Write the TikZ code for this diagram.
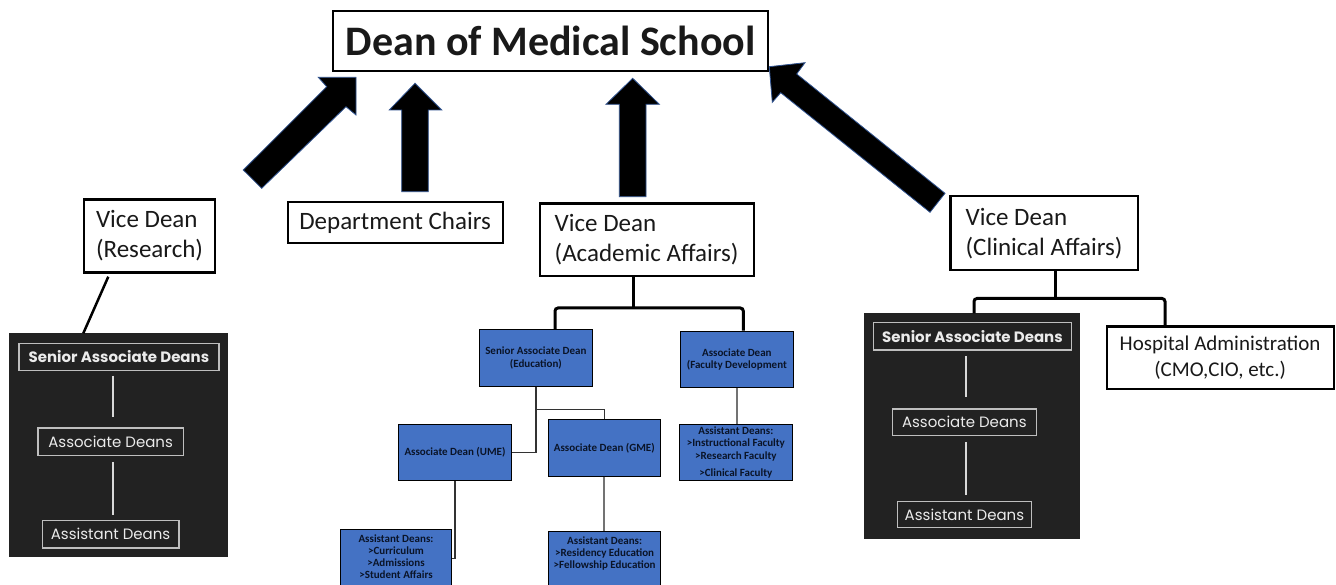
\documentclass[tikz,border=0pt]{standalone}
\usepackage{fontspec}
\setmainfont{Carlito}
\newfontfamily\gothic{Poppins}
\usetikzlibrary{calc}
\definecolor{bluefill}{HTML}{4472C4}
\definecolor{darkbg}{HTML}{222222}
\definecolor{innerline}{HTML}{BFBFBF}
\definecolor{arrowedge}{HTML}{2F528F}
\definecolor{bluetext}{HTML}{0A1428}
\begin{document}
\begin{tikzpicture}[x=1pt,y=-1pt,
  whitebox/.style={draw=black, line width=2.2pt, fill=white, inner sep=0pt, anchor=north west, align=center, text=black!90},
  vdbox/.style={whitebox, align=left, font=\fontsize{25}{30}\selectfont},
  bluebox/.style={draw=black, line width=1pt, fill=bluefill, inner sep=0pt, anchor=north west, align=center, text=bluetext, font=\bfseries\fontsize{11}{12.3}\selectfont},
  darkpanel/.style={fill=darkbg, draw=none, inner sep=0pt, anchor=north west},
  innerbox/.style={draw=innerline, line width=1.2pt, inner sep=0pt, text=white!92!black, font=\gothic\fontsize{15}{18}\selectfont, anchor=north west},
  darkline/.style={draw=white!85!black, line width=2pt},
  thickconn/.style={draw=black, line width=3pt, rounded corners=3pt},
  thinconn/.style={draw=black!80, line width=1.4pt},
  grayconn/.style={draw=black!55, line width=1.8pt},
  blockarrow/.style={fill=black, draw=arrowedge, line width=0.8pt, line join=miter},
]
\useasboundingbox (0,0) rectangle (1336,585);
\fill[white] (0,0) rectangle (1336,585);

% top
\node[whitebox, minimum width=435, minimum height=60, font=\bfseries\fontsize{42}{42}\selectfont] (dean) at (332,10) {Dean of Medical School};

% second row
\node[vdbox, minimum width=131.5, minimum height=73] (vdr) at (82.7,198.5) {Vice Dean\\(Research)};
\node[whitebox, minimum width=215, minimum height=41, font=\fontsize{25}{30}\selectfont] (chairs) at (286.5,201) {Department Chairs};
\node[vdbox, minimum width=214, minimum height=72.5] (vda) at (538.5,202.5) {Vice Dean\\(Academic Affairs)};
\node[vdbox, minimum width=187.4, minimum height=74.3] (vdc) at (949.3,195) {Vice Dean\\(Clinical Affairs)};

% block arrows
\filldraw[blockarrow] (243.3,170) -- (326.7,86.7) -- (318.3,77.3) -- (356,77.3) -- (356,115) -- (346,106.7) -- (261.7,188.3) -- cycle;
\filldraw[blockarrow] (401.7,191.7) -- (401.7,110) -- (389.3,110) -- (415,83.3) -- (441.7,110) -- (428.3,110) -- (428.3,191.7) -- cycle;
\filldraw[blockarrow] (619.3,196.7) -- (619.3,104.3) -- (606,104.3) -- (632.7,78.3) -- (659.3,104.3) -- (646,104.3) -- (646,196.7) -- cycle;
\filldraw[blockarrow] (769.3,66.7) -- (805,62.7) -- (796.7,74) -- (945,193.3) -- (930,212.3) -- (780.7,92.7) -- (772.3,102.3) -- cycle;

% left dark panel
\node[darkpanel, minimum width=219, minimum height=223.4] (lpanel) at (9,333.3) {};
\node[innerbox, minimum width=200, minimum height=27.3, font=\gothic\bfseries\fontsize{15}{18}\selectfont] (lsad) at (18.3,342.7) {Senior Associate Deans};
\node[innerbox, minimum width=145.4, minimum height=27.7] (lad) at (37.3,427.3) {Associate Deans};
\node[innerbox, minimum width=136.6, minimum height=27.3] (lasd) at (41.7,520) {Assistant Deans};
\coordinate (lx) at (113.3,0);
\draw[darkline] ($(lsad.south -| lx)+(0,4.3)$) -- ($(lad.north -| lx)+(0,-10.6)$);
\draw[darkline] ($(lad.south -| lx)+(0,5.7)$) -- ($(lasd.north -| lx)+(0,-5)$);
\draw[draw=black, line width=2.5pt] ($(vdr.south west)+(25.6,3)$) -- ($(lpanel.north west)+(74.3,0)$);

% right dark panel
\node[darkpanel, minimum width=216.7, minimum height=225] (rpanel) at (863.3,313.3) {};
\node[innerbox, minimum width=198.3, minimum height=27, font=\gothic\bfseries\fontsize{15}{18}\selectfont] (rsad) at (872.7,322.3) {Senior Associate Deans};
\node[innerbox, minimum width=144, minimum height=26.7] (rad) at (891.7,408.3) {Associate Deans};
\node[innerbox, minimum width=134.3, minimum height=25.7] (rasd) at (896.7,501) {Assistant Deans};
\coordinate (rx) at (966,0);
\draw[darkline] ($(rsad.south -| rx)+(0,5.7)$) -- ($(rad.north -| rx)+(0,-11)$);
\draw[darkline] ($(rad.south -| rx)+(0,5.7)$) -- ($(rasd.north -| rx)+(0,-6)$);

\node[whitebox, minimum width=227, minimum height=62, font=\fontsize{21}{25.6}\selectfont] (hosp) at (1105.5,325.5) {Hospital Administration\\(CMO,CIO, etc.)};

% clinical connector
\coordinate (cM) at (1055.6,298.5);
\coordinate (cL) at (974,298.5);
\coordinate (cR) at (1165,298.5);
\draw[thickconn] (cM |- vdc.south) -- (cM);
\draw[thickconn] (cL |- rpanel.north) -- (cL) -- (cR) -- (cR |- hosp.north);

% blue boxes
\node[bluebox, minimum width=112.7, minimum height=56.4] (sade) at (479,329.3) {Senior Associate Dean\\(Education)};
\node[bluebox, minimum width=112.7, minimum height=56] (fd) at (680,330.7) {Associate Dean\\(Faculty Development};
\node[bluebox, minimum width=112.4, minimum height=56.3] (ume) at (398.3,424) {Associate Dean (UME)};
\node[bluebox, minimum width=112.3, minimum height=56.4] (gme) at (547.7,419.3) {Associate Dean (GME)};
\node[bluebox] (aume) at (340,529) {\parbox[c][58pt][t]{111pt}{\centering\rule{0pt}{12.5pt}Assistant Deans:\\>Curriculum\\>Admissions\\>Student Affairs}};
\node[bluebox] (agme) at (548.3,531) {\parbox[c][56pt][t]{111.7pt}{\centering\rule{0pt}{12.5pt}Assistant Deans:\\>Residency Education\\>Fellowship Education}};
\node[bluebox] (afac) at (679,424) {\parbox[c][56.3pt][t]{112.7pt}{\centering\rule{0pt}{10pt}Assistant Deans:\\>Instructional Faculty\\>Research Faculty\\[5.4pt]>Clinical Faculty}};

% academic connector
\coordinate (aM) at (633,308);
\coordinate (aL) at (555,308);
\coordinate (aR) at (743.3,308);
\draw[thickconn] (aM |- vda.south) -- (aM);
\draw[thickconn] (aL |- sade.north) -- (aL) -- (aR) -- (aR |- fd.north);

% thin connectors
\draw[thinconn] (sade.south) -- ++(0,22.7) -| (gme.north);
\draw[thinconn] (sade.south) |- (ume.east);
\draw[thinconn] (ume.south) |- (aume.east);
\draw[grayconn] (gme.south) -- (gme.south |- agme.north);
\draw[grayconn] (fd.south) -- (fd.south |- afac.north);
\end{tikzpicture}
\end{document}
